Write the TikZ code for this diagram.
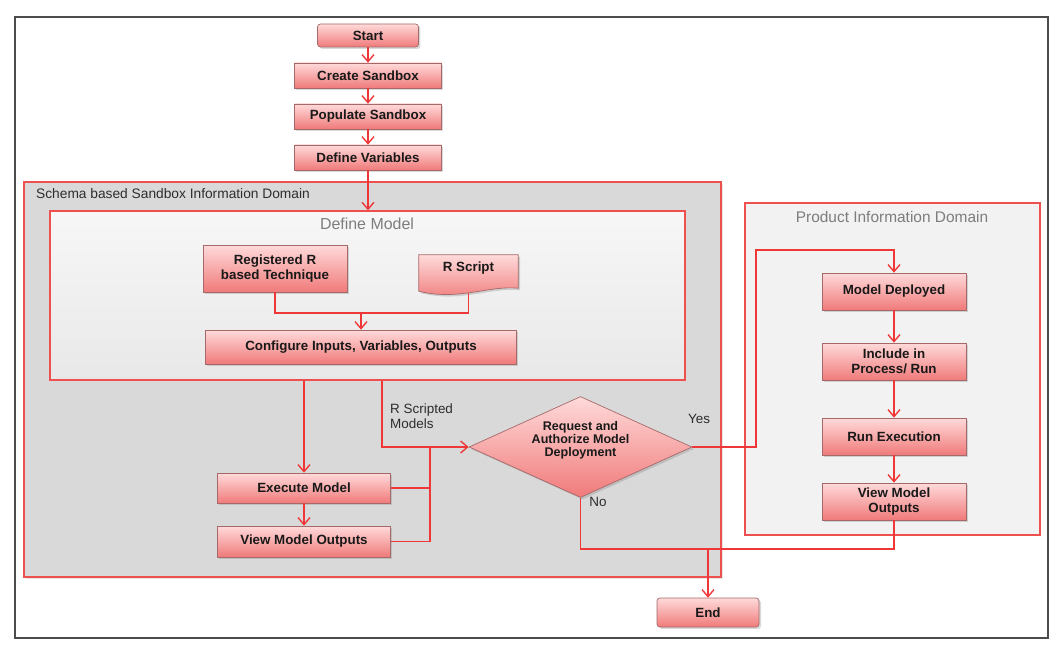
\documentclass[tikz,border=0pt]{standalone}
\usepackage{fontspec}
\setmainfont{Liberation Sans}
\usetikzlibrary{arrows.meta,shapes.geometric,shadows,calc}
\definecolor{redline}{RGB}{240,55,55}
\definecolor{contred}{RGB}{238,80,80}
\definecolor{pinktop}{RGB}{255,218,218}
\definecolor{pinkbot}{RGB}{240,122,122}
\definecolor{boxborder}{RGB}{165,105,105}
\definecolor{schemafill}{RGB}{217,217,217}
\definecolor{innertop}{RGB}{247,247,247}
\definecolor{innerbot}{RGB}{232,232,232}
\definecolor{prodfill}{RGB}{242,242,242}
\definecolor{labgray}{RGB}{125,125,125}
\definecolor{darktext}{RGB}{45,45,45}
\tikzset{
  pbox/.style={rectangle, draw=boxborder, line width=0.7pt, top color=pinktop, bottom color=pinkbot,
    font=\bfseries\fontsize{13.4}{15.5}\selectfont, text=black!90, align=center, inner sep=0pt,
    drop shadow={shadow xshift=2pt, shadow yshift=-2pt, opacity=0.3}},
  cont/.style={rectangle, draw=contred, line width=1.4pt, inner sep=0pt},
  link/.style={draw=redline, line width=1.6pt},
  arr/.style={link, -{Straight Barb[length=7pt,width=12pt,line width=1.4pt]}},
  smalllab/.style={font=\fontsize{13.5}{15}\selectfont, text=darktext, align=left, inner sep=0pt},
}
\begin{document}
\begin{tikzpicture}[x=1bp,y=-1bp]
\useasboundingbox (0,0) rectangle (1062,652);
\draw[gray!60!black, line width=2.5pt] (15,17) rectangle (1048,638);

% containers
\node[cont, fill=schemafill, minimum width=697bp, minimum height=395bp,
  drop shadow={shadow xshift=2pt, shadow yshift=-2pt, opacity=0.2}] (schema) at (372.5,379.5) {};
\node[smalllab, font=\fontsize{13.8}{15}\selectfont, anchor=west] (schemalab) at (36,194) {Schema based Sandbox Information Domain};
\node[cont, top color=innertop, bottom color=innerbot, minimum width=635bp, minimum height=169bp] (dm) at (367.5,295.5) {};
\node[font=\fontsize{16}{18}\selectfont, text=labgray, inner sep=0pt] (dmlab) at (367,224) {Define Model};
\node[cont, fill=prodfill, minimum width=295bp, minimum height=332bp] (prod) at (892.5,369) {};
\node[font=\fontsize{15.5}{18}\selectfont, text=labgray, inner sep=0pt] (prodlab) at (892,217) {Product Information Domain};

% top chain
\node[pbox, rounded corners=3pt, minimum width=101bp, minimum height=23bp] (start) at (368,35.5) {Start};
\node[pbox, minimum width=147bp, minimum height=25bp] (create) at (368,75.5) {Create Sandbox};
\node[pbox, minimum width=147bp, minimum height=25bp] (pop) at (368,116.5) {Populate Sandbox};
\node[pbox, minimum width=147bp, minimum height=25bp] (defv) at (368,157.5) {Define Variables};

% define model contents
\node[pbox, minimum width=144bp, minimum height=47bp] (reg) at (275,268.5) {Registered R\\based Technique};
\node[minimum width=99bp, minimum height=38bp, inner sep=0pt] (rs) at (468.5,274) {};
\path[draw=boxborder, line width=0.7pt, top color=pinktop, bottom color=pinkbot,
    drop shadow={shadow xshift=2pt, shadow yshift=-2pt, opacity=0.3}]
  (rs.north west) -- (rs.north east) -- ($(rs.south east)+(0,-5)$)
  .. controls ($(rs.south east)+(-30,-8)$) and ($(rs.south west)+(40,8)$) .. ($(rs.south west)+(0,-2)$) -- cycle;
\node[font=\bfseries\fontsize{13.4}{15.5}\selectfont, text=black!90, inner sep=0pt] (rstext) at (468.5,268) {R Script};
\node[pbox, minimum width=311bp, minimum height=34bp] (config) at (361,347) {Configure Inputs, Variables, Outputs};

% lower left
\node[pbox, minimum width=173bp, minimum height=30bp] (exec) at (304,488) {Execute Model};
\node[pbox, minimum width=173bp, minimum height=31bp] (vmo) at (304,541.5) {View Model Outputs};

% diamond
\node[diamond, draw=boxborder, line width=0.7pt, top color=pinktop, bottom color=pinkbot, inner sep=0pt, aspect=2.2,
  minimum width=223bp, minimum height=101bp,
  drop shadow={shadow xshift=2pt, shadow yshift=-2pt, opacity=0.3}] (dia) at (580.5,447) {};
\node[font=\bfseries\fontsize{12.6}{13}\selectfont, text=black!90, align=center, inner sep=0pt] (diatext) at (580.5,440.5)
  {Request and\\Authorize Model\\Deployment};

% right chain
\node[pbox, minimum width=144bp, minimum height=37bp] (md) at (894,291.5) {Model Deployed};
\node[pbox, minimum width=144bp, minimum height=37bp] (incl) at (894,361.5) {Include in\\Process/ Run};
\node[pbox, minimum width=144bp, minimum height=37bp] (runex) at (894,436.5) {Run Execution};
\node[pbox, minimum width=144bp, minimum height=37bp] (rvmo) at (894,501.5) {View Model\\Outputs};

\node[pbox, rounded corners=3pt, minimum width=102bp, minimum height=29bp] (end) at (708,612.5) {End};

% labels
\node[smalllab, anchor=north west] (rsmlab) at (390,404) {R Scripted\\Models};
\node[smalllab] (yeslab) at (699,419) {Yes};
\node[smalllab] (nolab) at (598,502) {No};

% helper coordinates
\coordinate (rsx) at (382,0);
\coordinate (jx) at (430,448);
\coordinate (yx) at (756,250);
\coordinate (ny) at (0,549);
\coordinate (jy) at (0,313);

% connectors
\draw[arr] (start) -- (create);
\draw[arr] (create) -- (pop);
\draw[arr] (pop) -- (defv);
\draw[arr] (defv.south) -- (defv.south |- dm.north);
\draw[link] (reg.south) |- (jy -| rs.south) -- (rs.south);
\draw[arr] (config.north |- jy) -- (config.north);
\draw[arr] (exec.north |- dm.south) -- (exec.north);
\draw[arr] (exec) -- (vmo);
\draw[arr] (dm.south -| rsx) |- (dia.west);
\draw[link] (exec.east) -| (jx);
\draw[link] (vmo.east) -| (jx);
\draw[arr] (dia.east) -| (yx) -| (md.north);
\draw[arr] (md) -- (incl);
\draw[arr] (incl) -- (runex);
\draw[arr] (runex) -- (rvmo);
\draw[link] (dia.south) |- (rvmo.south |- ny) -- (rvmo.south);
\draw[arr] (end.north |- ny) -- (end.north);
\end{tikzpicture}
\end{document}
